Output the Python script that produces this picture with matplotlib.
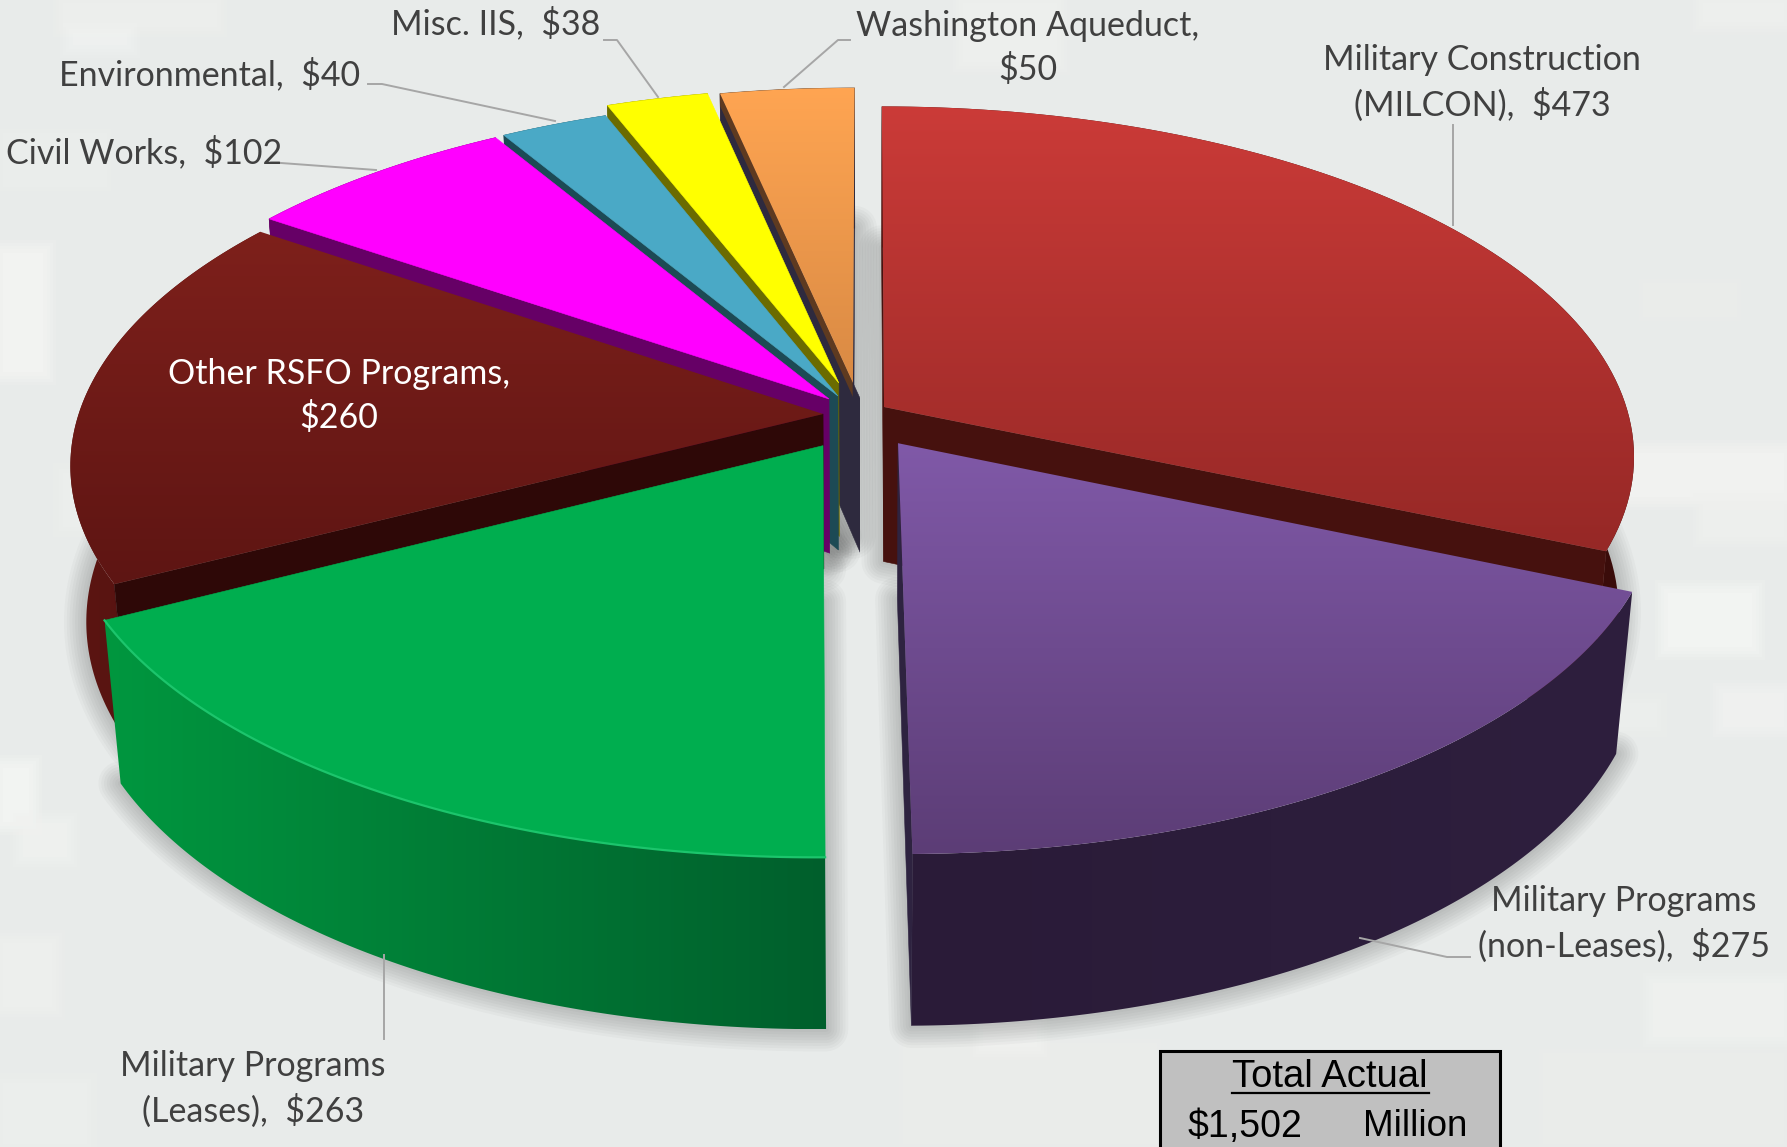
import numpy as np
import matplotlib
matplotlib.use("Agg")
import matplotlib.pyplot as plt
from matplotlib.patches import Polygon, Rectangle
from matplotlib.colors import to_rgb

categories = ["Military Construction (MILCON)", "Military Programs (non-Leases)",
              "Military Programs (Leases)", "Other RSFO Programs", "Civil Works",
              "Environmental", "Misc. IIS", "Washington Aqueduct"]
values = [473, 275, 263, 260, 102, 40, 38, 50]
explode_u = [0.0243, 0.0425, -0.057, -0.0577, -0.05, -0.038, -0.037, -0.0177]
explode_v = [0.0262, -0.078, -0.0849, 0.0058, 0.0497, 0.0585, 0.097, 0.097]
total_label = "$1,502"

W, H = 1787, 1147
CX, CY = 866, 416
A, B, DEPTH, K, M = 745, 345, 158, 0.14, 0.02

top_cols = [("#cb3b38", "#962826"), ("#8059a8", "#5c3d76"), ("#00ae4f", "#00ae4f"),
            ("#7e201b", "#5e1513"), ("#ff00ff", "#ff00ff"), ("#4aa9c6", "#4aa9c6"),
            ("#ffff00", "#ffff00"), ("#ffa552", "#d98a44")]
side_cols = [("#4a100d", "#3a0c0a"), ("#2a1b38", "#2e1f3e"), ("#00973f", "#005f2c"),
             ("#5c1512", "#4e100e"), ("#660066", "#660066"), ("#1d4a55", "#1d4a55"),
             ("#6b6b00", "#6b6b00"), ("#6a4020", "#6a4020")]
face_cols = ["#46110e", "#2e2340", "#00602c", "#2e0807", "#660066", "#1d4a55", "#6b6b00", "#2e2a3e"]
draw_order = [7, 6, 5, 4, 0, 3, 1, 2]

BG = "#e8ebea"
blocks = [(0, 250, 46, 125, "#f4f5f3"), (0, 130, 110, 60, "#ebeeec"), (0, 765, 32, 60, "#f5f6f4"),
          (20, 820, 50, 40, "#f0f1ef"), (1600, 450, 187, 50, "#f3f4f2"), (1665, 590, 90, 60, "#f5f6f4"),
          (1700, 500, 87, 40, "#eff0ee"), (1720, 690, 67, 40, "#f1f2f0"), (1600, 700, 60, 30, "#ecefed"),
          (960, 0, 100, 65, "#eef0ee"), (60, 0, 160, 30, "#edefed"), (70, 30, 60, 18, "#f0f2f0"),
          (1700, 0, 87, 25, "#eef0ee"), (60, 470, 40, 60, "#ecefed"), (0, 940, 55, 70, "#eff0ee"),
          (1540, 1050, 247, 97, "#ebedeb"), (900, 1040, 260, 107, "#ebedeb"), (1650, 980, 137, 60, "#f0f1ef"),
          (0, 1080, 90, 67, "#ecefed"), (980, 1020, 60, 30, "#f0f1ef"), (1640, 280, 100, 40, "#ebedeb")]


def project(u, v, d=0.0):
    w = 1 + K * v + M * d
    return CX + A * u / w, CY - (B * v - DEPTH * d) / w


def pts(du, dv, us, vs, d):
    x, y = project(du + np.asarray(us), dv + np.asarray(vs), d)
    return np.column_stack([x, y])


def grad_poly(ax, poly, c0, c1, vertical, z):
    poly = np.asarray(poly)
    if c0 == c1:
        ax.add_patch(Polygon(poly, closed=True, fc=c0, ec=c0, lw=0.4, zorder=z))
        return
    c0, c1 = np.array(to_rgb(c0)), np.array(to_rgb(c1))
    s = np.linspace(0, 1, 256)[:, None]
    arr = c0 + (c1 - c0) * s
    arr = arr[:, None, :] if vertical else arr[None, :, :]
    xa, xb, ya, yb = poly[:, 0].min(), poly[:, 0].max(), poly[:, 1].min(), poly[:, 1].max()
    im = ax.imshow(arr, extent=[xa, xb, yb, ya], aspect="auto", zorder=z, interpolation="bilinear")
    im.set_clip_path(Polygon(poly, closed=True, transform=ax.transData))


fig = plt.figure(figsize=(W / 100, H / 100), dpi=100)
ax = fig.add_axes([0, 0, 1, 1])
ax.set_facecolor(BG)
fig.patch.set_facecolor(BG)

for (x, y, w, h, c) in blocks:
    for g, al in ((10, 0.2), (7, 0.25), (4, 0.3), (1, 0.4), (-3, 0.6)):
        ax.add_patch(Rectangle((x - g, y - g), w + 2 * g, h + 2 * g, fc=c, ec="none", alpha=al, zorder=1))

fractions = np.array(values, dtype=float) / np.sum(values)
angles = np.concatenate([[0], np.cumsum(fractions) * 2 * np.pi])
camera_v = -1 / K

# soft shadow of each slice's base
for i in range(len(values)):
    t = np.linspace(angles[i], angles[i + 1], 90)
    us = np.concatenate([[0], np.sin(t)])
    vs = np.concatenate([[0], np.cos(t)])
    base = pts(explode_u[i], explode_v[i], us, vs, 1.0)
    for lw in np.arange(4, 36, 4):
        ax.add_patch(Polygon(base, closed=True, fc="none", ec="#303030", lw=lw, alpha=0.032,
                             joinstyle="round", zorder=2))

z = 10
for i in draw_order:
    du, dv = explode_u[i], explode_v[i]
    t0, t1 = angles[i], angles[i + 1]
    t = np.linspace(t0, t1, 90)
    su, sv = np.sin(t), np.cos(t)
    # outer wall
    wall = np.vstack([pts(du, dv, su, sv, 0), pts(du, dv, su[::-1], sv[::-1], 1)])
    grad_poly(ax, wall, side_cols[i][0], side_cols[i][1], False, z)
    z += 1
    # radial cut faces, only those turned towards the viewer
    faces = [(su[0], sv[0], -np.cos(t0), np.sin(t0), True), (su[-1], sv[-1], np.cos(t1), -np.sin(t1), False)]
    for s_u, s_v, nu, nv, is_start in faces:
        if nu * (-du) + nv * (camera_v - dv) <= 0.01:
            continue
        extended = i == 7 and is_start
        r0 = -0.1 if extended else 0.0
        face = np.vstack([pts(du, dv, [r0 * s_u, s_u], [r0 * s_v, s_v], 0),
                          pts(du, dv, [s_u, r0 * s_u], [s_v, r0 * s_v], 1)])
        fp = Polygon(face, closed=True, fc=face_cols[i], ec=face_cols[i], lw=0.4, zorder=z)
        ax.add_patch(fp)
        z += 1
        if extended:
            fp.set_clip_path(Rectangle((0, 0), 860, H, transform=ax.transData))
            band = np.vstack([pts(du, dv, [0, s_u], [0, s_v], 0), pts(du, dv, [s_u, 0], [s_v, 0], 0.09)])
            ax.add_patch(Polygon(band, closed=True, fc="#5e3a20", ec="none", zorder=z))
            z += 1
    # top
    top = np.vstack([pts(du, dv, [0], [0], 0), pts(du, dv, su, sv, 0)])
    grad_poly(ax, top, top_cols[i][0], top_cols[i][1], True, z)
    z += 1
    if i == 2:
        ax.plot(*pts(du, dv, su, sv, 0).T, color="#1cc56c", lw=1.6, zorder=z)
        z += 1

ax.set_xlim(0, W)
ax.set_ylim(H, 0)
ax.axis("off")

TXT = "#404040"
FS = 24.5
FAM = ["Lato", "Open Sans", "DejaVu Sans"]
TZ = 200
labels = [("Military Construction\n(MILCON),  $473", 1482, 83, TXT), ("Military Programs\n(non-Leases),  $275", 1624, 924, TXT),
          ("Military Programs\n(Leases),  $263", 253, 1089, TXT), ("Other RSFO Programs,\n$260", 339, 396, "white"),
          ("Civil Works,  $102", 144, 152, TXT), ("Environmental,  $40", 210, 74, TXT),
          ("Misc. IIS,  $38", 496, 23, TXT), ("Washington Aqueduct,\n$50", 1028, 48, TXT)]
for s, x, y, c in labels:
    ax.text(x, y, s, ha="center", va="center", color=c, fontsize=FS, family=FAM, linespacing=1.42, zorder=TZ)

leaders = [([604, 617, 658], [40, 40, 97]), ([850, 838, 784], [40, 40, 87]),
           ([368, 382, 555], [84, 84, 121]), ([281, 376], [163, 170]),
           ([1453, 1453], [125, 225]), ([1470, 1447, 1360], [957, 957, 938]),
           ([384, 384], [1039, 955])]
for xs, ys in leaders:
    ax.plot(xs, ys, color="#a6a6a6", lw=1.4, zorder=TZ)

ax.add_patch(Rectangle((1160, 1051), 340, 110, fc="#c0c0c0", ec="black", lw=2.2, zorder=TZ))
ax.text(1330, 1077, "Total Actual", ha="center", va="center", fontsize=27.5, family="Liberation Sans", color="black", zorder=TZ + 1)
ax.plot([1232, 1429], [1093, 1093], color="black", lw=1.6, zorder=TZ + 1)
ax.text(1188, 1127, total_label, ha="left", va="center", fontsize=27, family="Liberation Sans", color="black", zorder=TZ + 1)
ax.text(1363, 1127, "Million", ha="left", va="center", fontsize=26.5, family="Liberation Sans", color="black", zorder=TZ + 1)

fig.savefig("out.png", dpi=100, facecolor=BG)
